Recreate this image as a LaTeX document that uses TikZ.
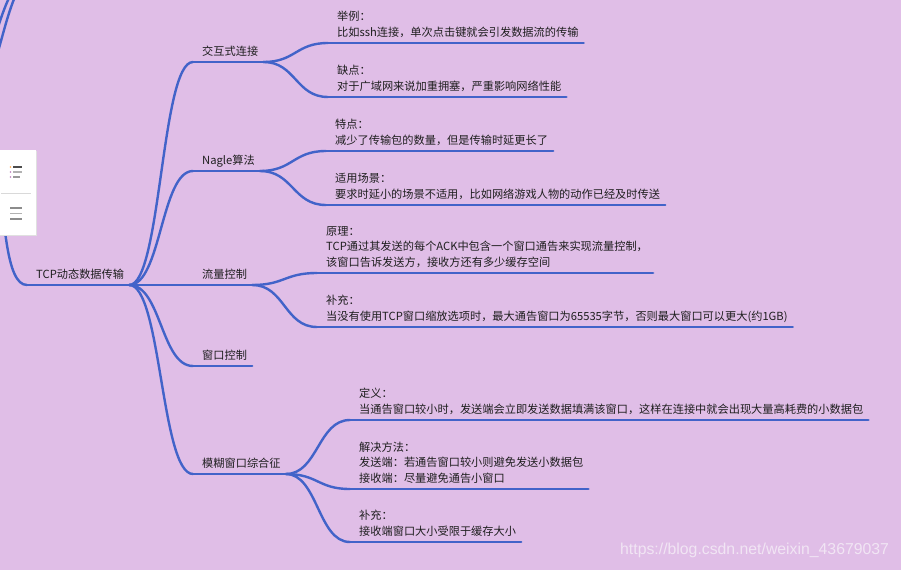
\documentclass[tikz,border=0pt]{standalone}
\usepackage{fontspec}
\setmainfont{Noto Sans CJK SC}
\newfontfamily\cjkfont{Noto Sans CJK SC}
\newfontfamily\wmfont{Liberation Sans}
\usetikzlibrary{calc}
\definecolor{bgc}{RGB}{224,190,231}
\definecolor{edgec}{RGB}{66,99,201}
\definecolor{inkc}{RGB}{30,30,30}
\definecolor{wmc}{RGB}{241,229,244}
\begin{document}
\begin{tikzpicture}[x=1pt,y=-1pt,
  topic/.style={anchor=south west, inner xsep=5pt, inner ysep=6.7pt, text depth=0pt,
    execute at begin node=\hskip4pt,
    font=\cjkfont\fontsize{11.2}{15.5}\selectfont, text=inkc},
  branch/.style={draw=edgec, line width=2.4pt, line cap=round},
  link/.style={to path={let \p1=(\tikztostart), \p2=(\tikztotarget),
    \p3=($(\tikztostart)!0.5!(\tikztotarget)$) in
    .. controls (\x3,\y1) and (\x3,\y2) .. (\tikztotarget)}}
]
\clip (0,0) rectangle (901,570);
\useasboundingbox (0,0) rectangle (901,570);
\fill[bgc] (0,0) rectangle (901,570);

% nodes
\node[topic] (R) at (27,285) {TCP动态数据传输};
\node[topic] (C1) at (193,62) {交互式连接};
\node[topic] (C2) at (193,171) {Nagle算法};
\node[topic] (C3) at (193,285) {流量控制};
\node[topic] (C4) at (193,366) {窗口控制};
\node[topic] (C5) at (193,474) {模糊窗口综合征};

\node[topic] (L1) at (328,43) {\vbox{\lineskiplimit=-50pt\hbox{举例：}\hbox{比如ssh连接，单次点击键就会引发数据流的传输}}};
\node[topic] (L2) at (328,97) {\vbox{\lineskiplimit=-50pt\hbox{缺点：}\hbox{对于广域网来说加重拥塞，严重影响网络性能}}};
\node[topic] (L3) at (326,151) {\vbox{\lineskiplimit=-50pt\hbox{特点：}\hbox{减少了传输包的数量，但是传输时延更长了}}};
\node[topic] (L4) at (326,205) {\vbox{\lineskiplimit=-50pt\hbox{适用场景：}\hbox{要求时延小的场景不适用，比如网络游戏人物的动作已经及时传送}}};
\node[topic] (L5) at (317,273) {\vbox{\lineskiplimit=-50pt\hbox{原理：}\hbox{TCP通过其发送的每个ACK中包含一个窗口通告来实现流量控制，}\hbox{该窗口告诉发送方，接收方还有多少缓存空间}}};
\node[topic] (L6) at (317,327) {\vbox{\lineskiplimit=-50pt\hbox{补充：}\hbox{当没有使用TCP窗口缩放选项时，最大通告窗口为65535字节，否则最大窗口可以更大(约1GB)}}};
\node[topic] (L7) at (350,420) {\vbox{\lineskiplimit=-50pt\hbox{定义：}\hbox{当通告窗口较小时，发送端会立即发送数据填满该窗口，这样在连接中就会出现大量高耗费的小数据包}}};
\node[topic] (L8) at (350,489) {\vbox{\lineskiplimit=-50pt\hbox{解决方法：}\hbox{发送端：若通告窗口较小则避免发送小数据包}\hbox{接收端：尽量避免通告小窗口}}};
\node[topic] (L9) at (350,542) {\vbox{\lineskiplimit=-50pt\hbox{补充：}\hbox{接收端窗口大小受限于缓存大小}}};

% underlines
\foreach \n in {R,C1,C2,C3,C4,C5,L1,L2,L3,L4,L5,L6,L7,L8,L9}
  \draw[branch] (\n.south west) -- (\n.south east);

% connectors
\foreach \c in {C1,C2,C3,C4,C5}
  \draw[branch] (R.south east) to[link] (\c.south west);
\draw[branch] (C1.south east) to[link] (L1.south west);
\draw[branch] (C1.south east) to[link] (L2.south west);
\draw[branch] (C2.south east) to[link] (L3.south west);
\draw[branch] (C2.south east) to[link] (L4.south west);
\draw[branch] (C3.south east) to[link] (L5.south west);
\draw[branch] (C3.south east) to[link] (L6.south west);
\draw[branch] (C5.south east) to[link] (L7.south west);
\draw[branch] (C5.south east) to[link] (L8.south west);
\draw[branch] (C5.south east) to[link] (L9.south west);

% incoming lines from the off-screen parent
\coordinate (up) at (-3,150);
\coordinate (ua) at (-3,30);
\coordinate (ub) at (-3,55);
\coordinate (sa) at (12,-8);
\coordinate (sb) at (17,-8);
\draw[branch] (up) .. controls (4,220) and (6,285) .. (R.south west);
\draw[branch] (ua) .. controls (2,15) and (6,3) .. (sa);
\draw[branch] (ub) .. controls (3,35) and (8,12) .. (sb);

% side panel
\fill[black!12] (0,150.5) rectangle (37,236);
\fill[white] (0,150) rectangle (36,235);
\draw[black!15, line width=0.8pt] (1,193) -- (31,193);
\fill[orange!70] (10.5,167) circle (0.8);
\fill[violet!50] (10.5,172) circle (0.8);
\fill[violet!50] (10.5,177) circle (0.8);
\draw[black!70, line width=1.2pt] (13,167) -- (22,167);
\draw[black!30, line width=1.2pt] (13,172) -- (22,172);
\draw[black!40, line width=1.2pt] (13,177) -- (20,177);
\draw[black!45, line width=1.2pt] (10,208) -- (22,208);
\draw[black!30, line width=1.2pt] (10,213.5) -- (22,213.5);
\draw[black!45, line width=1.2pt] (10,219) -- (22,219);

% watermark
\node[font=\wmfont\fontsize{15.8}{18}\selectfont, text=wmc, anchor=west, inner sep=0] (wm) at (620,550) {https://blog.csdn.net/weixin\_43679037};
\end{tikzpicture}
\end{document}
